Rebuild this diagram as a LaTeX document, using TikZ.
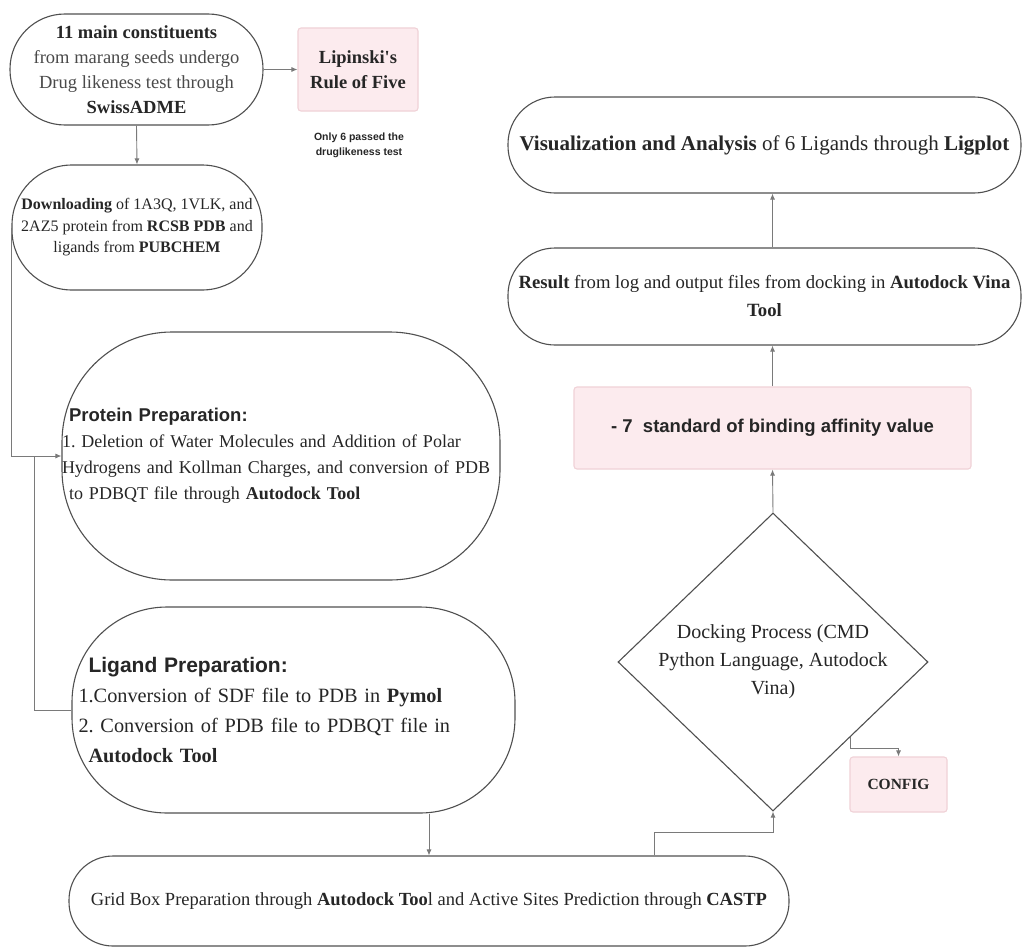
\documentclass[tikz,border=0pt]{standalone}
\usepackage{fontspec}
\setmainfont{Liberation Serif}
\setsansfont{Liberation Sans}
\usetikzlibrary{arrows.meta,shapes.geometric}
\definecolor{boxline}{HTML}{505050}
\definecolor{arrline}{HTML}{7A7A7A}
\definecolor{pinkfill}{HTML}{FCEBEE}
\definecolor{pinkline}{HTML}{F0D2D7}
\definecolor{txt}{HTML}{262626}
\definecolor{txtlight}{HTML}{4A4A4A}
\newcommand{\fs}[2]{\fontsize{#1}{#2}\selectfont}
\tikzset{
  box/.style={draw=boxline, line width=1.1pt, text=txt, align=center, inner sep=0pt},
  stadium/.style={box, rounded corners=#1},
  pinkbox/.style={box, draw=pinkline, fill=pinkfill, rounded corners=3pt},
  arr/.style={draw=arrline, line width=0.9pt, -{Latex[length=6pt,width=5pt]}},
  conn/.style={draw=arrline, line width=0.9pt},
}
\begin{document}
\frenchspacing
\begin{tikzpicture}[x=1pt,y=-1pt]
\fill[white] (0,0) rectangle (1024,950);
\useasboundingbox (0,0) rectangle (1024,950);
% left column
\node[stadium=55pt, minimum width=253pt, minimum height=111pt, font=\fs{18.5}{25}] (consti) at (136.5,69.5)
  {\textbf{11 main constituents}\\ \textcolor{txtlight}{from marang seeds undergo}\\ \textcolor{txtlight}{Drug likeness test through}\\ \textbf{SwissADME}};
\node[pinkbox, minimum width=120pt, minimum height=83pt, font=\bfseries\fs{18.5}{25}] (lipinski) at (358,69.5)
  {Lipinski\textquotesingle s\\ Rule of Five};
\node[text=txt, align=center, font=\sffamily\bfseries\fs{10.5}{15}] (note) at (359,145)
  {Only 6 passed the\\ druglikeness test};
\node[stadium=60pt, minimum width=250pt, minimum height=125pt, font=\fs{16}{21.5}] (download) at (137,227.5)
  {\textbf{Downloading} of 1A3Q, 1VLK, and\\ 2AZ5 protein from \textbf{RCSB PDB} and\\ ligands from \textbf{PUBCHEM}};
\node[stadium=110pt, minimum width=438pt, minimum height=248pt, align=left, text width=438pt, font=\fs{18}{26}] (protein) at (281,456)
  {\hspace*{7pt}{\sffamily\bfseries\fontsize{18.5}{26}\selectfont Protein Preparation:}\\ 1. Deletion of Water Molecules and Addition of Polar\\ Hydrogens and Kollman Charges, and conversion of PDB\\ \hspace*{7pt}to PDBQT file through \textbf{Autodock Tool}};
\node[stadium=95pt, minimum width=443pt, minimum height=206pt, align=left, text width=430pt, font=\fs{20.3}{30}] (ligand) at (293.5,710)
  {\hspace*{10pt}{\sffamily\bfseries\fontsize{21}{30}\selectfont Ligand Preparation:}\\ 1.Conversion of SDF file to PDB in \textbf{Pymol}\\ 2. Conversion of PDB file to PDBQT file in\\ \hspace*{10pt}\textbf{Autodock Tool}};
\node[stadium=44pt, minimum width=720pt, minimum height=90pt, font=\fs{18.5}{25}] (grid) at (429,901)
  {Grid Box Preparation through \textbf{Autodock Too}l and Active Sites Prediction through \textbf{CASTP}};
% right column
\node[box, diamond, aspect=1.04, minimum width=310pt, minimum height=298pt, font=\fs{20}{28}] (dock) at (773,662)
  {Docking Process (CMD\\ Python Language, Autodock\\ Vina)};
\node[pinkbox, minimum width=97pt, minimum height=55pt, font=\bfseries\fs{15.5}{20}] (config) at (898.5,784.5) {CONFIG};
\node[pinkbox, minimum width=397pt, minimum height=82pt, font=\sffamily\bfseries\fs{18.5}{25}] (affinity) at (772.5,428)
  {- 7~ standard of binding affinity value};
\node[stadium=47pt, minimum width=513pt, minimum height=97pt, font=\fs{18.7}{28}] (result) at (764.5,296.5)
  {\textbf{Result} from log and output files from docking in \textbf{Autodock Vina}\\ \textbf{Tool}};
\node[stadium=47pt, minimum width=513pt, minimum height=96pt, font=\fs{21}{28}] (visual) at (764.5,145)
  {\textbf{Visualization and Analysis} of 6 Ligands through \textbf{Ligplot}};
\coordinate (join) at (34,456);
% connectors
\draw[arr] (consti.east) -- (lipinski.west);
\draw[arr] (consti.south) -- (download.north);
\draw[arr] (download.west) |- (protein.west);
\draw[conn] (ligand.west) -| (join);
\draw[arr] (ligand.south -| grid.north) -- (grid.north);
\draw[arr] ([xshift=225pt]grid.north) -- ++(0,-23) -| (dock.south);
\draw[arr] (dock.south east) -- ++(0,12) -| (config.north);
\draw[arr] (dock.north) -- (affinity.south);
\draw[arr] (affinity.north) -- (affinity.north |- result.south);
\draw[arr] (affinity.north |- result.north) -- (affinity.north |- visual.south);
\end{tikzpicture}
\end{document}
